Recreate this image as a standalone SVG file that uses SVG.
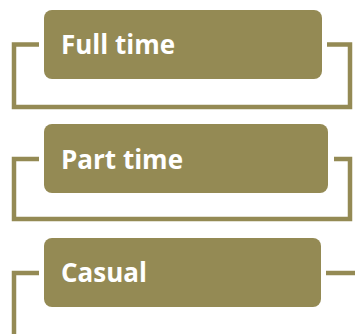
<svg xmlns="http://www.w3.org/2000/svg" width="355" height="334" viewBox="0 0 355 334">
<style>
.box{fill:#948A54}
.lbl{fill:#FFFFFF;font-family:"Open Sans","Liberation Sans",sans-serif;font-weight:bold;font-size:26px}
.conn{fill:none;stroke:#948A54;stroke-width:4.5}
</style>
<rect width="355" height="334" fill="#FFFFFF"/>
<g id="connectors">
<path class="conn" d="M39,44.5 H14 V107 H350 V44.5 H327"/>
<path class="conn" d="M39,159 H14 V219 H350 V159 H334"/>
<path class="conn" d="M39,273 H14 V334"/>
<path class="conn" d="M326,273 H355"/>
</g>
<g id="node-full-time">
<rect class="box" x="44" y="10" width="278" height="69" rx="8"/>
<text class="lbl" x="61" y="53.5">Full time</text>
</g>
<g id="node-part-time">
<rect class="box" x="44" y="124" width="284" height="69" rx="8"/>
<text class="lbl" x="61" y="168.5">Part time</text>
</g>
<g id="node-casual">
<rect class="box" x="44" y="238" width="277" height="69" rx="8"/>
<text class="lbl" x="61" y="282">Casual</text>
</g>
</svg>
